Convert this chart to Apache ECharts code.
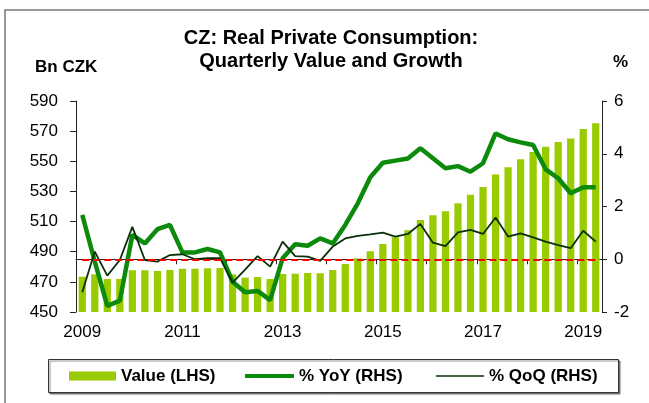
<!DOCTYPE html>
<html>
<head>
<meta charset="utf-8">
<script src="https://cdn.jsdelivr.net/npm/echarts@6/dist/echarts.min.js"></script>
<style>
    html, body { margin: 0; padding: 0; background: #fff; }
    #chart { width: 649px; height: 403px; }
</style>
</head>
<body>
<div id="chart"></div>
<script>
// quarters 2009Q1 .. 2019Q2
const quarters = [
    "2009Q1", "2009Q2", "2009Q3", "2009Q4", "2010Q1", "2010Q2", "2010Q3", "2010Q4",
    "2011Q1", "2011Q2", "2011Q3", "2011Q4", "2012Q1", "2012Q2", "2012Q3", "2012Q4",
    "2013Q1", "2013Q2", "2013Q3", "2013Q4", "2014Q1", "2014Q2", "2014Q3", "2014Q4",
    "2015Q1", "2015Q2", "2015Q3", "2015Q4", "2016Q1", "2016Q2", "2016Q3", "2016Q4",
    "2017Q1", "2017Q2", "2017Q3", "2017Q4", "2018Q1", "2018Q2", "2018Q3", "2018Q4",
    "2019Q1", "2019Q2"
];

// Bn CZK (left axis)
const valueLHS = [
    473.4, 475.0, 471.9, 471.9, 477.7, 477.7, 477.2, 477.9,
    478.7, 478.7, 479.0, 479.2, 475.0, 472.8, 473.2, 471.9,
    475.2, 475.4, 475.9, 475.7, 477.9, 481.8, 485.6, 490.3,
    495.1, 499.6, 504.3, 511.0, 514.2, 516.8, 522.1, 527.8,
    532.9, 541.3, 546.0, 551.3, 556.2, 559.7, 562.8, 565.2,
    571.4, 575.2
];

// % YoY (right axis)
const yoyRHS = [
    1.68, -0.09, -1.77, -1.57, 0.92, 0.60, 1.14, 1.30,
    0.26, 0.26, 0.39, 0.26, -0.85, -1.25, -1.20, -1.55,
    0.04, 0.57, 0.51, 0.79, 0.60, 1.30, 2.12, 3.11,
    3.66, 3.74, 3.82, 4.21, 3.83, 3.45, 3.53, 3.32,
    3.64, 4.77, 4.55, 4.43, 4.33, 3.41, 3.07, 2.50,
    2.73, 2.73
];

// % QoQ (right axis)
const qoqRHS = [
    -1.25, 0.29, -0.62, -0.03, 1.23, -0.03, -0.09, 0.16,
    0.19, 0.00, 0.04, 0.04, -0.89, -0.39, 0.12, -0.28,
    0.67, 0.12, 0.10, -0.06, 0.48, 0.79, 0.89, 0.94,
    1.01, 0.86, 0.96, 1.34, 0.63, 0.50, 1.02, 1.11,
    0.96, 1.58, 0.86, 0.98, 0.83, 0.67, 0.54, 0.42,
    1.08, 0.67
];

const leftRange = [450, 590, 20];
const rightRange = [-2, 6, 2];
const zeroLine = 0;

const FONT = "'Liberation Sans', Arial, sans-serif";
const chart = echarts.init(document.getElementById("chart"));

const legendText = { color: "#000", fontSize: 17, fontWeight: "bold", fontFamily: FONT, lineHeight: 18 };

const option = {
    animation: false,
    backgroundColor: "#fff",
    textStyle: { fontFamily: FONT },
    title: [
        {
            text: "CZ: Real Private Consumption:\nQuarterly Value and Growth",
            left: 331, top: 27, textAlign: "center", padding: 0,
            textStyle: { fontSize: 20, fontWeight: "bold", color: "#000", lineHeight: 23, fontFamily: FONT }
        },
        {
            text: "Bn CZK", left: 35, top: 59, padding: 0,
            textStyle: { fontSize: 17, fontWeight: "bold", color: "#000", fontFamily: FONT }
        },
        {
            text: "%", left: 613, top: 54, padding: 0,
            textStyle: { fontSize: 17, fontWeight: "bold", color: "#000", fontFamily: FONT }
        }
    ],
    graphic: [
        // outer frame
        { type: "rect", silent: true, z: -1,
          shape: { x: 5, y: 10, width: 700, height: 500 },
          style: { fill: "none", stroke: "#777", lineWidth: 1.5 } },
        // legend box
        { type: "rect", silent: true, z: -1,
          shape: { x: 48.5, y: 359.5, width: 570, height: 33 },
          style: { fill: "#fff", stroke: "#333", lineWidth: 1,
                   shadowColor: "rgba(0,0,0,0.45)", shadowOffsetX: 1.5, shadowOffsetY: 1.5, shadowBlur: 1 } }
    ],
    legend: [
        { data: ["Value (LHS)"], left: 69, top: 367, padding: 0, itemGap: 0,
          icon: "rect", itemWidth: 47, itemHeight: 9, textStyle: legendText },
        { data: ["% YoY (RHS)"], left: 245, top: 367, padding: 0, itemGap: 0,
          icon: "rect", itemWidth: 49, itemHeight: 4, textStyle: legendText },
        { data: ["% QoQ (RHS)"], left: 436, top: 367, padding: 0, itemGap: 0,
          icon: "rect", itemWidth: 48, itemHeight: 1.6, textStyle: legendText }
    ],
    grid: { left: 76, right: 47, top: 101, bottom: 91, containLabel: false },
    xAxis: {
        type: "category",
        data: quarters,
        boundaryGap: true,
        axisLine: { lineStyle: { color: "#222", width: 1 } },
        axisTick: { show: true, length: 5, interval: (i) => i % 4 === 0, lineStyle: { color: "#222" } },
        axisLabel: {
            interval: (i) => i % 8 === 0,
            formatter: (v) => v.slice(0, 4),
            color: "#000", fontSize: 17, margin: 12, fontFamily: FONT
        },
        splitLine: { show: false }
    },
    yAxis: [
        {
            type: "value",
            min: leftRange[0], max: leftRange[1], interval: leftRange[2],
            axisLine: { show: true, lineStyle: { color: "#222", width: 1 } },
            axisTick: { show: true, length: 6, lineStyle: { color: "#222" } },
            axisLabel: { color: "#000", fontSize: 17, margin: 18, fontFamily: FONT },
            splitLine: { show: false }
        },
        {
            type: "value",
            position: "right",
            min: rightRange[0], max: rightRange[1], interval: rightRange[2],
            axisLine: { show: true, lineStyle: { color: "#222", width: 1 } },
            axisTick: { show: true, length: 5, lineStyle: { color: "#222" } },
            axisLabel: { color: "#000", fontSize: 17, margin: 12, fontFamily: FONT },
            splitLine: { show: false }
        }
    ],
    series: [
        {
            name: "Value (LHS)",
            type: "bar",
            yAxisIndex: 0,
            data: valueLHS,
            barWidth: "58%",
            itemStyle: { color: "#99cc00" }
        },
        {
            name: "% YoY (RHS)",
            type: "line",
            yAxisIndex: 1,
            data: yoyRHS,
            symbol: "none",
            lineStyle: { color: "#0b8a0b", width: 4.5 },
            itemStyle: { color: "#0b8a0b" },
            markLine: {
                silent: true,
                symbol: "none",
                label: { show: false },
                lineStyle: { color: "#ff0000", type: [7, 4], width: 2 },
                data: [[{ coord: [quarters[0], zeroLine] }, { coord: [quarters[quarters.length - 1], zeroLine] }]]
            },
            z: 3
        },
        {
            name: "% QoQ (RHS)",
            type: "line",
            yAxisIndex: 1,
            data: qoqRHS,
            symbol: "none",
            lineStyle: { color: "#0a300a", width: 1.8 },
            itemStyle: { color: "#0a300a" },
            z: 4
        }
    ]
};

chart.setOption(option);
</script>
</body>
</html>
